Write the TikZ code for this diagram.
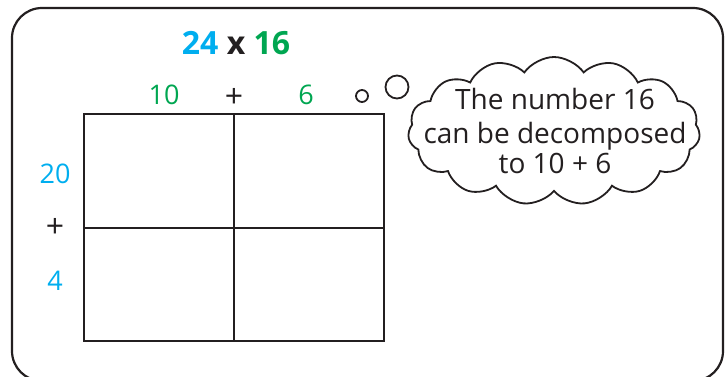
\documentclass[tikz,border=0pt]{standalone}
\usepackage{fontspec}
\setmainfont{Open Sans}
\usetikzlibrary{shapes.symbols}
\definecolor{myblue}{RGB}{0,174,239}
\definecolor{mygreen}{RGB}{0,166,81}
\definecolor{ink}{RGB}{35,31,32}
\begin{document}
\begin{tikzpicture}[x=1pt,y=-1pt,
  frame/.style={draw=ink,line width=2.2pt},
  gridline/.style={draw=ink,line width=2pt},
  lbl/.style={font=\fontsize{27}{30}\selectfont,inner sep=0pt,anchor=base},
  plus/.style={font=\fontsize{32}{34}\selectfont,text=ink,inner sep=0pt,anchor=center},
  ctxt/.style={font=\fontsize{28}{30}\selectfont,text=ink,inner sep=0pt,anchor=base},
  bubble/.style={draw=ink,line width=1.8pt}]
\useasboundingbox (0,0) rectangle (728,377);
\draw[frame,rounded corners=30pt] (12,8) rectangle (723,381);
% title
\node[font=\fontsize{32}{35}\selectfont\bfseries,inner sep=0pt,anchor=base] (title) at (236,55)
  {\textcolor{myblue}{24} \textcolor{ink}{x} \textcolor{mygreen}{16}};
% grid
\coordinate (g1) at (84,114);
\coordinate (g2) at (384,341);
\draw[gridline] (g1) rectangle (g2);
\coordinate (vt) at (234,114);
\coordinate (vb) at (234,341);
\coordinate (hl) at (84,228);
\coordinate (hr) at (384,228);
\draw[gridline] (vt) -- (vb);
\draw[gridline] (hl) -- (hr);
% top labels
\node[lbl,text=mygreen] (t10) at (164,105) {10};
\node[plus] (tplus) at (234,97.5) {+};
\node[lbl,text=mygreen] (t6) at (306,105) {6};
% left labels
\node[lbl,text=myblue] (l20) at (55,183) {20};
\node[plus] (lplus) at (55,228) {+};
\node[lbl,text=myblue] (l4) at (55,290) {4};
% thought bubbles
\node[bubble,circle,minimum size=12pt,inner sep=0pt] (b1) at (362,96) {};
\node[bubble,circle,minimum size=23pt,inner sep=0pt] (b2) at (397,87) {};
% cloud
\node[bubble,cloud,cloud puffs=15,cloud puff arc=110,aspect=2.1,minimum width=292pt,minimum height=148pt,inner sep=0pt] (cloud) at (554,131) {};
\node[ctxt] (ct1) at (555,110) {The number 16};
\node[ctxt] (ct2) at (555,143) {can be decomposed};
\node[ctxt] (ct3) at (555,173) {to 10 + 6};
\end{tikzpicture}
\end{document}
